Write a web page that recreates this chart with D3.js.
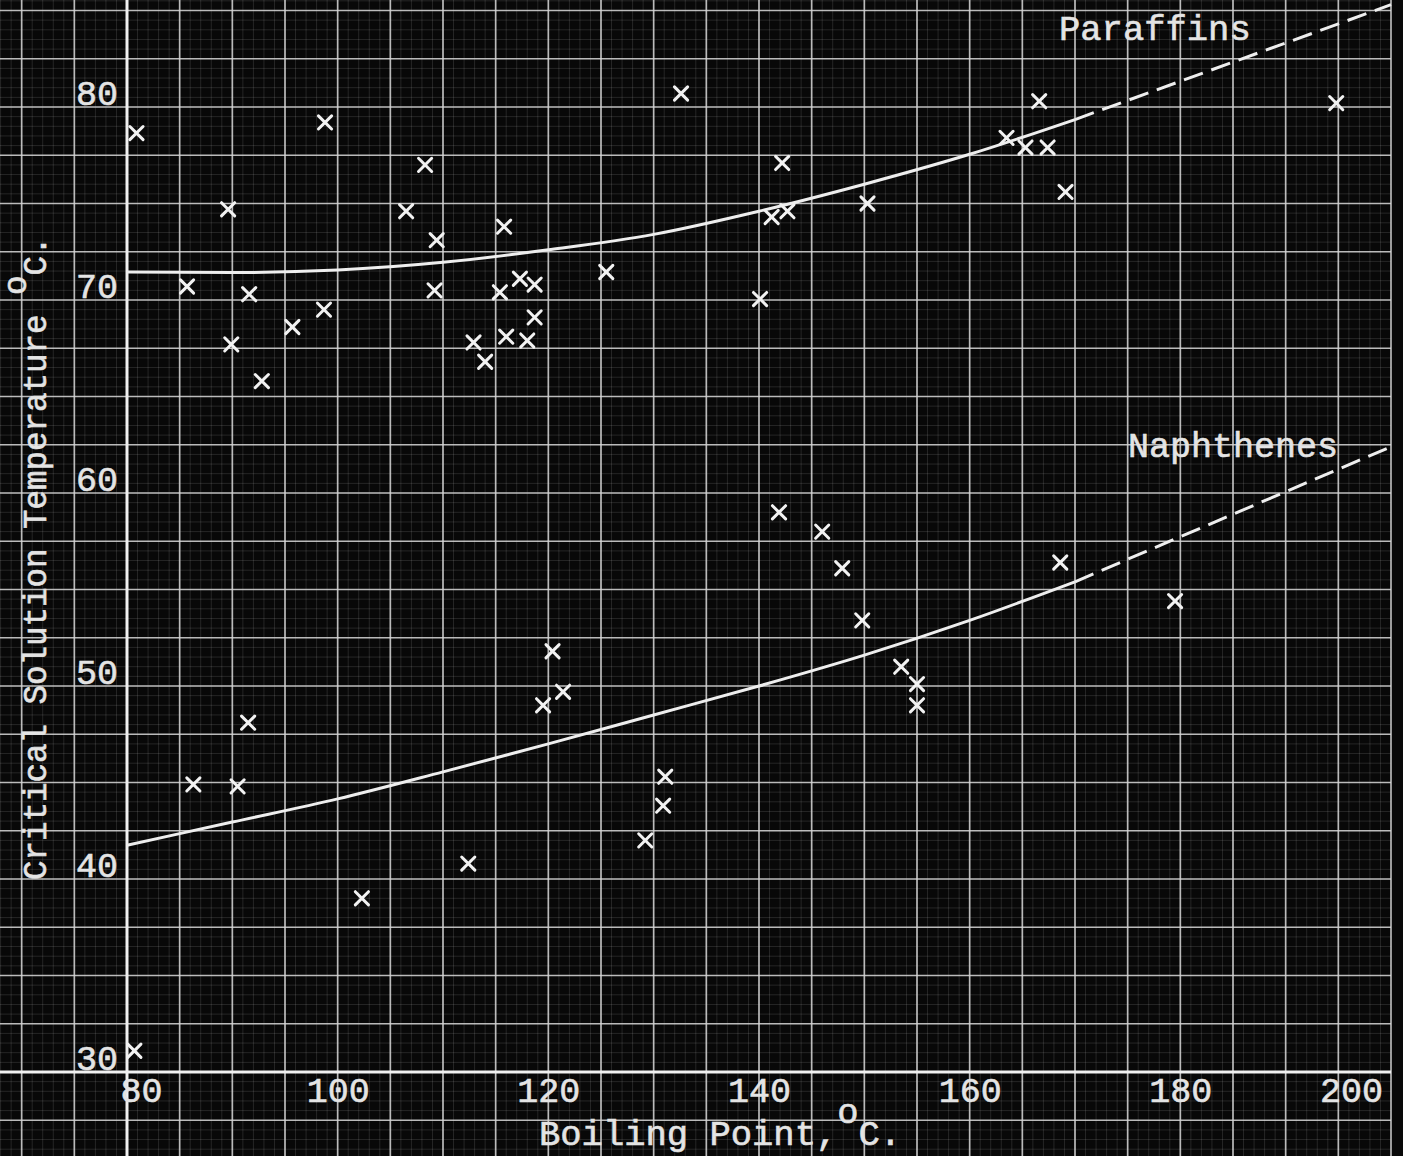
<!DOCTYPE html>
<html>
<head>
<meta charset="utf-8">
<script src="https://cdn.jsdelivr.net/npm/d3@7"></script>
<style>
  html, body { margin: 0; padding: 0; background: #080808; }
  svg { display: block; }
  text { font-family: "Liberation Mono", "DejaVu Sans Mono", monospace; fill: #e4e4e4; stroke: #e4e4e4; stroke-width: 0.6px; }
</style>
</head>
<body>
<svg id="chart" width="1403" height="1156"></svg>
<script>
// Tick labels
const boilingTicks = [80, 100, 120, 140, 160, 180, 200];
const tempTicks = [30, 40, 50, 60, 70, 80];

// Observed critical solution temperatures (boiling point °C, CST °C)
const sampleBp = [
  80.9, 85.7, 89.6, 89.9, 91.6, 92.8, 95.7, 98.7, 98.8, 106.5,
  108.3, 109.4, 109.2, 112.9, 114.0, 115.4, 115.8, 116.0, 117.3, 118.0,
  118.7, 118.7, 125.5, 132.6, 140.1, 141.2, 142.2, 142.7, 150.3, 163.5,
  165.3, 166.6, 167.4, 169.1, 194.8,
  80.7, 86.3, 90.5, 91.5, 102.3, 112.4, 119.5, 120.4, 121.4, 129.2,
  131.1, 130.9, 141.9, 146.0, 147.9, 149.8, 153.5, 155.0, 155.0, 168.6,
  179.5
];
const sampleT = [
  78.65, 70.7, 74.7, 67.7, 70.3, 65.8, 68.6, 69.5, 79.2, 74.6,
  77.0, 73.1, 70.5, 67.8, 66.8, 70.4, 73.8, 68.1, 71.1, 67.9,
  70.8, 69.1, 71.45, 80.7, 70.05, 74.3, 77.1, 74.6, 75.0, 78.4,
  77.9, 80.3, 77.9, 75.6, 80.2,
  31.1, 44.9, 44.8, 48.1, 39.0, 40.8, 49.0, 51.8, 49.7, 42.0,
  45.3, 43.8, 59.0, 58.0, 56.1, 53.4, 51.0, 50.1, 49.0, 56.4,
  54.4
];

// Smoothed trend curves (solid part) and their extrapolations (dashed part)
const curveBp = [80, 90, 100, 110, 120, 130, 140, 150, 160, 170];
const paraffinT = [71.45, 71.42, 71.55, 71.95, 72.6, 73.4, 74.6, 76.0, 77.55, 79.35];
const naphtheneT = [41.75, 42.95, 44.15, 45.55, 47.0, 48.5, 50.0, 51.6, 53.4, 55.4];
const extBp = [170, 200];
const paraffinExtT = [79.35, 85.3];
const naphtheneExtT = [55.4, 62.4];

const W = 1403, H = 1156;
const svg = d3.select("#chart");

const x = d3.scaleLinear().domain([80, 200]).range([127, 1391]);
const y = d3.scaleLinear().domain([30, 80]).range([1072, 107]);

const xMin = x.invert(0), yMin = y.invert(H), yMax = y.invert(0);
const xRight = x(200);

svg.append("rect").attr("width", W).attr("height", H).attr("fill", "#080808");

// Graph paper: fine rulings
const grid = svg.append("g");
grid.selectAll("line.vmin")
  .data(d3.range(Math.ceil(xMin), 200, 1))
  .join("line")
  .attr("x1", d => x(d)).attr("x2", d => x(d))
  .attr("y1", 0).attr("y2", H)
  .attr("stroke", "#ffffff").attr("stroke-opacity", 0.12).attr("stroke-width", 1);
grid.selectAll("line.hmin")
  .data(d3.range(Math.ceil(yMin * 2) / 2, yMax, 0.5))
  .join("line")
  .attr("x1", 0).attr("x2", xRight)
  .attr("y1", d => y(d)).attr("y2", d => y(d))
  .attr("stroke", "#ffffff").attr("stroke-opacity", 0.12).attr("stroke-width", 1);

// Graph paper: main rulings
grid.selectAll("line.vmaj")
  .data(d3.range(70, 200.01, 5))
  .join("line")
  .attr("x1", d => x(d)).attr("x2", d => x(d))
  .attr("y1", 0).attr("y2", H)
  .attr("stroke", "#d6d6d6").attr("stroke-opacity", 0.85).attr("stroke-width", 1.7);
grid.selectAll("line.hmaj")
  .data(d3.range(27.5, yMax, 2.5))
  .join("line")
  .attr("x1", 0).attr("x2", xRight)
  .attr("y1", d => y(d)).attr("y2", d => y(d))
  .attr("stroke", "#d6d6d6").attr("stroke-opacity", 0.85).attr("stroke-width", 1.7);

// Axis lines
svg.append("line")
  .attr("x1", 0).attr("x2", xRight).attr("y1", y(30)).attr("y2", y(30))
  .attr("stroke", "#f0f0f0").attr("stroke-width", 3);
svg.append("line")
  .attr("x1", x(80)).attr("x2", x(80)).attr("y1", 0).attr("y2", H)
  .attr("stroke", "#f0f0f0").attr("stroke-width", 3);

// Tick labels
const xAxis = svg.append("g")
  .attr("transform", `translate(0,${y(30)})`)
  .call(d3.axisBottom(x).tickValues(boilingTicks).tickSize(0).tickFormat(d3.format("d")));
xAxis.select(".domain").remove();
xAxis.selectAll("text")
  .attr("y", 30).attr("dy", 0)
  .attr("dx", d => d === 80 ? 14 : d === 200 ? -40 : 0)
  .style("font-size", "35px")
  .style("font-family", '"Liberation Mono", monospace')
  .attr("fill", "#e4e4e4");

const yAxis = svg.append("g")
  .attr("transform", `translate(${x(80)},0)`)
  .call(d3.axisLeft(y).tickValues(tempTicks).tickSize(0).tickPadding(9).tickFormat(d3.format("d")));
yAxis.select(".domain").remove();
yAxis.selectAll("text")
  .attr("y", -3).attr("dy", 0)
  .style("font-size", "35px")
  .style("font-family", '"Liberation Mono", monospace')
  .attr("fill", "#e4e4e4");

// Axis titles (degree sign typed as a raised "o")
const xt = svg.append("text")
  .attr("x", 539).attr("y", 1145)
  .style("font-size", "35.5px");
xt.append("tspan").text("Boiling Point,");
xt.append("tspan").attr("dy", -22).text("o");
xt.append("tspan").attr("dy", 22).text("C.");

const yt = svg.append("text")
  .attr("transform", "translate(46,880) rotate(-90)")
  .style("font-size", "32.5px");
yt.append("tspan").text("Critical Solution Temperature ");
yt.append("tspan").attr("dy", -20).text("o");
yt.append("tspan").attr("dy", 20).text("C.");

// Trend curves
const line = d3.line().x(d => x(d[0])).y(d => y(d[1])).curve(d3.curveMonotoneX);
const straight = d3.line().x(d => x(d[0])).y(d => y(d[1]));

const curves = [
  { solid: d3.zip(curveBp, paraffinT), ext: d3.zip(extBp, paraffinExtT) },
  { solid: d3.zip(curveBp, naphtheneT), ext: d3.zip(extBp, naphtheneExtT) }
];
curves.forEach(c => {
  svg.append("path").attr("d", line(c.solid))
    .attr("fill", "none").attr("stroke", "#eeeeee").attr("stroke-width", 3);
  svg.append("path").attr("d", straight(c.ext))
    .attr("fill", "none").attr("stroke", "#eeeeee").attr("stroke-width", 3)
    .attr("stroke-dasharray", "20,9");
});

// Curve labels
svg.append("text").attr("x", 1059).attr("y", 40).style("font-size", "35.5px").text("Paraffins");
svg.append("text").attr("x", 1128).attr("y", 457).style("font-size", "35px").text("Naphthenes");

// Sample points
const cross = d3.symbol().type(d3.symbolTimes).size(115);
svg.append("g").selectAll("path")
  .data(d3.zip(sampleBp, sampleT))
  .join("path")
  .attr("d", cross)
  .attr("transform", d => `translate(${x(d[0])},${y(d[1])})`)
  .attr("fill", "none")
  .attr("stroke", "#f2f2f2")
  .attr("stroke-width", 3)
  .attr("stroke-linecap", "round");
</script>
</body>
</html>
